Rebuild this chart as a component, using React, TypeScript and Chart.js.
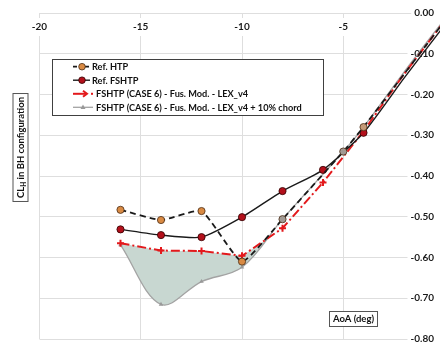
import React, { useEffect, useRef } from 'react';
import { Chart, registerables } from 'chart.js';

Chart.register(...registerables);

// ---- data ----
const AOA_HTP = [-16, -14, -12, -10, -8, -5, -4, -2, 0];
const CL_HTP = [-0.483, -0.508, -0.486, -0.61, -0.506, -0.34, -0.28, -0.15, -0.02];

const AOA_FSHTP = [-16, -14, -12, -10, -8, -6, -4, -2, 0];
const CL_FSHTP = [-0.531, -0.545, -0.55, -0.501, -0.437, -0.385, -0.294, -0.16, -0.03];

const AOA_CASE6 = [-16, -14, -12, -10, -8, -6, -4, -2, 0];
const CL_CASE6 = [-0.565, -0.583, -0.584, -0.596, -0.528, -0.416, -0.29, -0.15, -0.02];

const AOA_CHORD = [-16, -14, -12, -10, -8, -5, -4, -2, 0];
const CL_CHORD = [-0.569, -0.715, -0.659, -0.624, -0.506, -0.34, -0.28, -0.145, -0.015];

const SERIES_NAMES = [
  'Ref. HTP',
  'Ref. FSHTP',
  'FSHTP (CASE 6) - Fus. Mod. - LEX_v4',
  'FSHTP (CASE 6) - Fus. Mod. - LEX_v4 + 10% chord',
];

const X_TICKS = [-20, -15, -10, -5];
const X_MIN = -20;
const X_MAX = -0.52;
const Y_MIN = -0.8;
const Y_MAX = 0;
const Y_STEP = 0.1;

const X_TITLE = 'AoA (deg)';
const Y_TITLE_MAIN = 'CL';
const Y_TITLE_SUB = 'H';
const Y_TITLE_REST = ' in BH configuration';

const FONT = 'Lato, "Open Sans", "DejaVu Sans", sans-serif';
const MARKER_MAX_X = -4; // markers shown only up to this AoA

function pts(xs: number[], ys: number[]) {
  return xs.map((x, i) => ({ x, y: ys[i] }));
}

function drawMarker(
  ctx: CanvasRenderingContext2D,
  style: string,
  x: number,
  y: number,
  r: number,
  fill: string,
  stroke: string,
  bw: number
) {
  ctx.save();
  ctx.setLineDash([]);
  ctx.beginPath();
  if (style === 'circle') {
    ctx.arc(x, y, r, 0, Math.PI * 2);
    ctx.fillStyle = fill;
    ctx.fill();
    ctx.lineWidth = bw;
    ctx.strokeStyle = stroke;
    ctx.stroke();
  } else if (style === 'triangle') {
    ctx.moveTo(x, y - r);
    ctx.lineTo(x + r * 0.9, y + r * 0.6);
    ctx.lineTo(x - r * 0.9, y + r * 0.6);
    ctx.closePath();
    ctx.fillStyle = fill;
    ctx.fill();
  }
  ctx.restore();
}

const overlayPlugin = {
  id: 'overlay',
  afterDraw(chart: any) {
    const ctx: CanvasRenderingContext2D = chart.ctx;
    ctx.save();

    // ---- legend ----
    const lx = 52.5, ly = 59.5, lw = 271, lh = 56;
    ctx.fillStyle = '#ffffff';
    ctx.fillRect(lx, ly, lw, lh);
    ctx.strokeStyle = '#404040';
    ctx.lineWidth = 1;
    ctx.strokeRect(lx, ly, lw, lh);

    const rows = [66.7, 80.2, 93.8, 107.3];
    ctx.font = `bold 9.2px ${FONT}`;
    ctx.textBaseline = 'middle';
    ctx.textAlign = 'left';
    chart.data.datasets.forEach((ds: any, i: number) => {
      const y = rows[i];
      ctx.save();
      ctx.strokeStyle = ds.borderColor;
      ctx.lineWidth = ds.borderWidth;
      if (i === 0) {
        ctx.setLineDash([4, 2]);
        ctx.beginPath(); ctx.moveTo(73, y); ctx.lineTo(90, y); ctx.stroke();
        drawMarker(ctx, 'circle', 82, y, 3.3, '#d98a43', '#4a2c14', 0.8);
      } else if (i === 1) {
        ctx.beginPath(); ctx.moveTo(73, y); ctx.lineTo(90, y); ctx.stroke();
        drawMarker(ctx, 'circle', 82, y, 3.3, ds.pointBackgroundColor, ds.pointBorderColor, 0.8);
      } else if (i === 2) {
        ctx.beginPath(); ctx.moveTo(73, y); ctx.lineTo(86, y); ctx.stroke();
        ctx.beginPath(); ctx.moveTo(83, y - 3); ctx.lineTo(87, y); ctx.lineTo(83, y + 3); ctx.stroke();
        ctx.fillStyle = ds.borderColor;
        ctx.fillRect(91, y - 1, 2, 2);
      } else {
        ctx.beginPath(); ctx.moveTo(73, y); ctx.lineTo(93, y); ctx.stroke();
        drawMarker(ctx, 'triangle', 83, y, 2.8, ds.pointBackgroundColor, ds.pointBorderColor, 0);
      }
      ctx.restore();
      ctx.fillStyle = '#111';
      ctx.fillText(ds.label, i < 2 ? 92 : 96, y + 0.5);
    });

    // ---- x title box ----
    ctx.font = `bold 9.5px ${FONT}`;
    const tw = ctx.measureText(X_TITLE).width;
    const bx = 353.5, by = 318.5;
    ctx.fillStyle = '#fff';
    ctx.fillRect(bx - tw / 2 - 3.5, by - 7.5, tw + 7, 15);
    ctx.strokeStyle = '#555';
    ctx.lineWidth = 1;
    ctx.strokeRect(Math.round(bx - tw / 2 - 3.5) + 0.5, by - 7.5 + 0.5, Math.round(tw + 7), 15);
    ctx.fillStyle = '#111';
    ctx.textAlign = 'center';
    ctx.fillText(X_TITLE, bx, by + 0.5);

    // ---- y title box (rotated) ----
    ctx.save();
    ctx.translate(20.5, 147.5);
    ctx.rotate(-Math.PI / 2);
    const mainFont = `bold 9.5px ${FONT}`;
    const subFont = `bold 6.5px ${FONT}`;
    ctx.font = mainFont;
    const w1 = ctx.measureText(Y_TITLE_MAIN).width;
    const w3 = ctx.measureText(Y_TITLE_REST).width;
    ctx.font = subFont;
    const w2 = ctx.measureText(Y_TITLE_SUB).width;
    const total = w1 + w2 + w3;
    const boxW = total + 7;
    ctx.fillStyle = '#fff';
    ctx.fillRect(-boxW / 2, -7.5, boxW, 15);
    ctx.strokeStyle = '#555';
    ctx.lineWidth = 1;
    ctx.strokeRect(-boxW / 2, -7.5, boxW, 15);
    ctx.fillStyle = '#111';
    ctx.textAlign = 'left';
    let cx = -total / 2;
    ctx.font = mainFont;
    ctx.fillText(Y_TITLE_MAIN, cx, 0);
    cx += w1;
    ctx.font = subFont;
    ctx.fillText(Y_TITLE_SUB, cx, 3);
    cx += w2;
    ctx.font = mainFont;
    ctx.fillText(Y_TITLE_REST, cx, 0);
    ctx.restore();

    ctx.restore();
  },
};

export default function App() {
  const canvasRef = useRef<HTMLCanvasElement | null>(null);

  useEffect(() => {
    const canvas = canvasRef.current;
    if (!canvas) return;
    const radiusFor = (r: number) => (c: any) => (c.raw && c.raw.x > MARKER_MAX_X ? 0 : r);
    const chart = new Chart(canvas, {
      type: 'line',
      data: {
        datasets: [
          {
            label: SERIES_NAMES[0],
            data: pts(AOA_HTP, CL_HTP),
            borderColor: '#1a1a1a',
            borderWidth: 1.8,
            borderDash: [6, 4],
            pointStyle: 'circle',
            pointRadius: radiusFor(3.6),
            pointBackgroundColor: (c: any) =>
              c.raw && c.raw.x > -10 ? (c.raw.x >= -4 ? '#c49a78' : '#a29a94') : '#d98a43',
            pointBorderColor: '#4a2c14',
            pointBorderWidth: 0.8,
            tension: 0.15,
            fill: false,
            clip: false,
          },
          {
            label: SERIES_NAMES[1],
            data: pts(AOA_FSHTP, CL_FSHTP),
            borderColor: '#1a1a1a',
            borderWidth: 1.4,
            pointStyle: 'circle',
            pointRadius: radiusFor(3.6),
            pointBackgroundColor: '#b3101b',
            pointBorderColor: '#300000',
            pointBorderWidth: 0.8,
            tension: 0.2,
            fill: false,
            clip: false,
          },
          {
            label: SERIES_NAMES[2],
            data: pts(AOA_CASE6, CL_CASE6),
            borderColor: '#e3191c',
            borderWidth: 2,
            borderDash: [9, 3, 2, 3],
            pointStyle: 'cross',
            pointRadius: radiusFor(3.5),
            pointBorderWidth: 2,
            pointBorderColor: '#e3191c',
            pointBackgroundColor: '#e3191c',
            tension: 0,
            fill: false,
            clip: false,
          },
          {
            label: SERIES_NAMES[3],
            data: pts(AOA_CHORD, CL_CHORD),
            borderColor: '#a3a3a3',
            borderWidth: 1.3,
            pointStyle: 'triangle',
            pointRadius: (c: any) => (c.raw && c.raw.x > -10 ? 0 : 2.6),
            pointBackgroundColor: '#999999',
            pointBorderColor: '#999999',
            pointBorderWidth: 0,
            tension: 0.35,
            fill: { target: 2, above: 'rgba(0,0,0,0)', below: '#c8d7d1' },
            clip: false,
          },
        ],
      },
      options: {
        responsive: false,
        maintainAspectRatio: false,
        animation: false,
        devicePixelRatio: 1,
        events: [],
        layout: { padding: { left: 39.5, top: 1, right: 5, bottom: 6 } },
        plugins: {
          legend: { display: false },
          tooltip: { enabled: false },
          title: { display: false },
        },
        scales: {
          x: {
            type: 'linear',
            position: 'top',
            min: X_MIN,
            max: X_MAX,
            afterBuildTicks: (scale: any) => {
              scale.ticks = X_TICKS.map((v) => ({ value: v }));
            },
            grid: { color: '#dedede', lineWidth: 1, drawTicks: false },
            border: { display: false },
            ticks: {
              mirror: true,
              padding: 6,
              color: '#1a1a1a',
              font: { family: FONT, size: 10, weight: 'bold', lineHeight: 1.6 },
              showLabelBackdrop: true,
              backdropColor: '#ffffff',
              backdropPadding: 1,
              maxRotation: 0,
              callback: (v: any) => String(v),
            },
          },
          y: {
            type: 'linear',
            position: 'right',
            min: Y_MIN,
            max: Y_MAX,
            grid: { color: '#dedede', lineWidth: 1, drawTicks: false },
            border: { display: false },
            ticks: {
              stepSize: Y_STEP,
              mirror: true,
              padding: 0,
              color: '#1a1a1a',
              font: { family: FONT, size: 10, weight: 'bold' },
              showLabelBackdrop: true,
              backdropColor: '#ffffff',
              backdropPadding: { left: 3, right: 0, top: 0, bottom: 0 },
              callback: (v: any) => Number(v).toFixed(2),
            },
          },
        },
      } as any,
      plugins: [overlayPlugin],
    });
    return () => chart.destroy();
  }, []);

  return (
    <div style={{ position: 'fixed', left: 0, top: 0, width: 440, height: 345, background: '#fff' }}>
      <canvas ref={canvasRef} width={440} height={345} style={{ display: 'block' }} />
    </div>
  );
}
